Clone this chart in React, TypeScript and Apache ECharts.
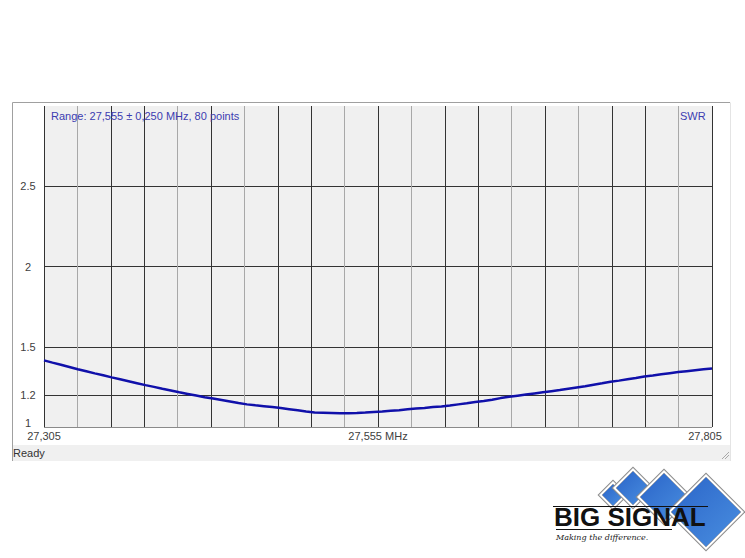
import React, { useEffect, useRef } from "react";
import * as echarts from "echarts";

// Sweep definition (from the chart's range caption)
const CENTER_MHZ = 27.555;
const HALF_SPAN_MHZ = 0.25;

// SWR readings, 80 sweep points from 27.305 to 27.805 MHz
const swrValues = [
  1.415, 1.401, 1.388, 1.374, 1.36, 1.347, 1.334, 1.322, 1.309, 1.297,
  1.285, 1.273, 1.261, 1.25, 1.238, 1.227, 1.216, 1.206, 1.196, 1.186,
  1.177, 1.168, 1.159, 1.149, 1.141, 1.135, 1.13, 1.124, 1.118, 1.111,
  1.104, 1.097, 1.091, 1.089, 1.087, 1.085, 1.085, 1.087, 1.09, 1.094,
  1.097, 1.101, 1.105, 1.11, 1.115, 1.119, 1.124, 1.128, 1.134, 1.141,
  1.148, 1.156, 1.162, 1.17, 1.18, 1.188, 1.195, 1.202, 1.209, 1.216,
  1.223, 1.23, 1.238, 1.246, 1.254, 1.263, 1.272, 1.282, 1.289, 1.297,
  1.305, 1.315, 1.321, 1.328, 1.335, 1.342, 1.348, 1.354, 1.36, 1.365,
];

// Axis ticks
const yTickValues = [1, 1.2, 1.5, 2, 2.5];
const xLabelOffsets = [-0.25, 0, 0.25]; // MHz from centre
const xGridPattern = ["#333333", "#a8a8a8", "#333333", "#333333", "#a8a8a8"];

const rangeCaption = "Range: 27,555 ± 0,250 MHz, 80 points";
const seriesCaption = "SWR";
const statusText = "Ready";

const FONT = '"Liberation Sans", Arial, sans-serif';

function diamond(cx: number, cy: number, r: number) {
  return [
    [cx, cy - r],
    [cx + r, cy],
    [cx, cy + r],
    [cx - r, cy],
  ];
}

function diamondGroup(cx: number, cy: number, r: number) {
  return [
    { type: "polygon", shape: { points: diamond(cx, cy, r + 3.5) }, style: { fill: "#8c8c8c" } },
    { type: "polygon", shape: { points: diamond(cx, cy, r + 2) }, style: { fill: "#ffffff" } },
    {
      type: "polygon",
      shape: { points: diamond(cx, cy, r - 1) },
      style: {
        fill: new echarts.graphic.LinearGradient(0, 0, 1, 1, [
          { offset: 0, color: "#2a64c8" },
          { offset: 1, color: "#4a8fe0" },
        ]),
        stroke: "#9aa0a8",
        lineWidth: 0.8,
      },
    },
  ];
}

export default function App() {
  const ref = useRef<HTMLDivElement>(null);

  useEffect(() => {
    if (!ref.current) return;
    const chart = echarts.init(ref.current, undefined, { renderer: "svg" });

    const n = swrValues.length;
    const data = swrValues.map((v, i) => [
      -HALF_SPAN_MHZ + (i * 2 * HALF_SPAN_MHZ) / (n - 1),
      v,
    ]);

    const yColors: string[] = [];
    for (let k = 0; k <= 20; k++) {
      const v = Math.round((1 + k * 0.1) * 10) / 10;
      if (k === 0) yColors.push("#8a8a8a");
      else if (yTickValues.includes(v)) yColors.push("#333333");
      else yColors.push("rgba(0,0,0,0)");
    }

    const fmtMHz = (v: number) => (CENTER_MHZ + v).toFixed(3).replace(".", ",");

    const logo: any[] = [];
    logo.push(...diamondGroup(613, 495, 12));
    logo.push(...diamondGroup(633, 488, 18));
    logo.push(...diamondGroup(664, 497, 25));
    logo.push(...diamondGroup(706, 512, 36));

    chart.setOption({
      animation: false,
      backgroundColor: "#ffffff",
      title: [
        {
          text: rangeCaption,
          left: 51,
          top: 110,
          padding: 0,
          textStyle: { fontSize: 11, fontWeight: "normal", color: "#3c3cb0", fontFamily: FONT },
        },
        {
          text: seriesCaption,
          left: 680,
          top: 110,
          padding: 0,
          textStyle: { fontSize: 11, fontWeight: "normal", color: "#3c3cb0", fontFamily: FONT },
        },
      ],
      grid: {
        left: 44,
        top: 106,
        width: 668,
        height: 321,
        show: true,
        backgroundColor: "#f0f0f0",
        borderWidth: 0,
      },
      xAxis: {
        type: "value",
        min: -HALF_SPAN_MHZ,
        max: HALF_SPAN_MHZ,
        interval: 0.025,
        axisLine: { show: false },
        axisTick: { show: false },
        splitLine: { show: true, lineStyle: { color: xGridPattern, width: 1 } },
        axisLabel: {
          interval: 0,
          hideOverlap: false,
          showMinLabel: true,
          showMaxLabel: true,
          margin: 3,
          color: "#404040",
          fontSize: 11,
          fontFamily: FONT,
          formatter: (v: number) => {
            const idx = xLabelOffsets.findIndex((o) => Math.abs(o - v) < 1e-9);
            if (idx < 0) return "";
            const s = fmtMHz(xLabelOffsets[idx]);
            if (idx === xLabelOffsets.length - 1) return "{r|" + s + "}";
            if (Math.abs(xLabelOffsets[idx]) < 1e-9) return s + " MHz";
            return s;
          },
          rich: {
            r: { fontSize: 11, color: "#404040", fontFamily: FONT, padding: [0, 14, 0, 0] },
          },
        },
      },
      yAxis: {
        type: "value",
        min: 1,
        max: 3,
        interval: 0.1,
        axisLine: { show: false },
        axisTick: { show: false },
        splitLine: { show: true, lineStyle: { color: yColors, width: 1 } },
        axisLabel: {
          margin: 16,
          align: "center",
          color: "#404040",
          fontSize: 11,
          fontFamily: FONT,
          formatter: (v: number) => {
            const r = Math.round(v * 10) / 10;
            if (Math.abs(v - r) > 1e-6 || !yTickValues.includes(r)) return "";
            if (r === yTickValues[0]) return "{low|" + r + "}";
            return String(r);
          },
          rich: {
            low: { fontSize: 11, color: "#404040", fontFamily: FONT, padding: [0, 0, 9, 0] },
          },
        },
      },
      series: [
        {
          type: "line",
          data,
          showSymbol: false,
          smooth: false,
          lineStyle: { color: "#1010aa", width: 2.5 },
          z: 5,
        },
      ],
      graphic: [
        // window frame
        { type: "line", z: -1, shape: { x1: 12.5, y1: 102.5, x2: 730, y2: 102.5 }, style: { stroke: "#a0a0a0", lineWidth: 1 } },
        { type: "line", z: -1, shape: { x1: 12.5, y1: 102.5, x2: 12.5, y2: 461 }, style: { stroke: "#a0a0a0", lineWidth: 1 } },
        { type: "line", z: -1, shape: { x1: 730.5, y1: 102.5, x2: 730.5, y2: 461 }, style: { stroke: "#e4e4e4", lineWidth: 1 } },
        // status bar
        { type: "rect", z: -1, shape: { x: 13, y: 445, width: 717, height: 16 }, style: { fill: "#f0f0f0" } },
        {
          type: "text",
          x: 13,
          y: 453,
          style: { text: statusText, fill: "#333333", font: "11px " + FONT, verticalAlign: "middle" },
        },
        { type: "line", shape: { x1: 722, y1: 459, x2: 729, y2: 452 }, style: { stroke: "#a8a8a8", lineWidth: 1 } },
        { type: "line", shape: { x1: 725, y1: 459, x2: 729, y2: 455 }, style: { stroke: "#a8a8a8", lineWidth: 1 } },
        // logo
        ...logo,
        { type: "line", shape: { x1: 553, y1: 506.5, x2: 708, y2: 506.5 }, style: { stroke: "#111111", lineWidth: 1.2 } },
        {
          type: "text",
          x: 554,
          y: 517,
          style: {
            text: "BIG SIGNAL",
            fill: "#111111",
            font: "bold 26px " + FONT,
            verticalAlign: "middle",
          },
        },
        { type: "line", shape: { x1: 556, y1: 529.5, x2: 672, y2: 529.5 }, style: { stroke: "#111111", lineWidth: 1 } },
        {
          type: "text",
          x: 556,
          y: 537,
          style: {
            text: "Making the difference.",
            fill: "#222222",
            font: 'italic 8px "DejaVu Serif", serif',
            verticalAlign: "middle",
          },
        },
      ],
    });

    return () => chart.dispose();
  }, []);

  return (
    <div
      ref={ref}
      style={{ position: "fixed", left: 0, top: 0, width: 745, height: 558, background: "#ffffff" }}
    />
  );
}
